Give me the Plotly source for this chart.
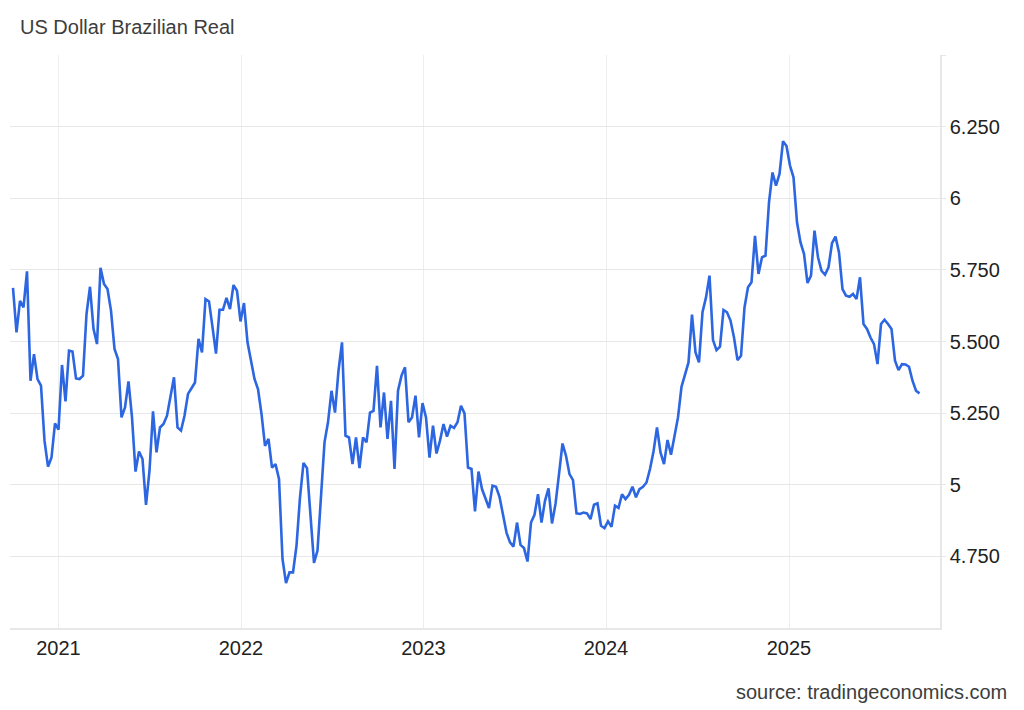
import pandas as pd
import plotly.graph_objects as go

# Weekly USD/BRL closes
start_date = "2020-10-02"
usdbrl = [
    5.687, 5.532, 5.642, 5.619, 5.745, 5.363, 5.456, 5.369, 5.346, 5.154,
    5.063, 5.095, 5.214, 5.192, 5.418, 5.291, 5.468, 5.465, 5.371, 5.369,
    5.381, 5.596, 5.691, 5.544, 5.491, 5.757, 5.701, 5.683, 5.608, 5.474,
    5.439, 5.235, 5.270, 5.361, 5.235, 5.046, 5.116, 5.090, 4.930, 5.049,
    5.256, 5.113, 5.200, 5.212, 5.241, 5.310, 5.375, 5.200, 5.189, 5.241,
    5.317, 5.337, 5.357, 5.509, 5.462, 5.648, 5.640, 5.550, 5.458, 5.611,
    5.611, 5.652, 5.613, 5.697, 5.677, 5.570, 5.634, 5.497, 5.430,
    5.369, 5.334, 5.247, 5.136, 5.160, 5.060, 5.072, 5.020, 4.741, 4.657,
    4.694, 4.694, 4.787, 4.956, 5.076, 5.058, 4.898, 4.727, 4.770, 4.973,
    5.148, 5.218, 5.328, 5.252, 5.398, 5.497, 5.171, 5.165, 5.072, 5.165,
    5.058, 5.165, 5.148, 5.252, 5.258, 5.415, 5.200, 5.322, 5.160, 5.293,
    5.055, 5.328, 5.381, 5.410, 5.218, 5.235, 5.311, 5.165, 5.285, 5.235,
    5.095, 5.206, 5.109, 5.154, 5.212, 5.168, 5.206, 5.198, 5.218, 5.276,
    5.249, 5.060, 5.055, 4.907, 5.046, 4.985, 4.950, 4.919, 4.997, 4.993,
    4.958, 4.898, 4.833, 4.799, 4.784, 4.868, 4.790, 4.779, 4.732, 4.868,
    4.895, 4.967, 4.868, 4.944, 4.987, 4.865, 4.933, 5.037, 5.144, 5.101,
    5.037, 5.016, 4.900, 4.898, 4.903, 4.900, 4.880, 4.930, 4.935, 4.857,
    4.849, 4.872, 4.853, 4.927, 4.919, 4.967, 4.950, 4.965, 4.993, 4.956,
    4.985, 4.993, 5.008, 5.055, 5.116, 5.200, 5.113, 5.072, 5.156, 5.105,
    5.168, 5.235, 5.342, 5.381, 5.427, 5.594, 5.462, 5.427, 5.602, 5.654,
    5.730, 5.505, 5.470, 5.482, 5.610, 5.602, 5.573, 5.514, 5.435, 5.450,
    5.619, 5.689, 5.707, 5.869, 5.736, 5.794, 5.800, 5.986, 6.090, 6.044,
    6.085, 6.199, 6.182, 6.114, 6.073, 5.916, 5.846, 5.806, 5.704, 5.730,
    5.887, 5.794, 5.747, 5.733, 5.759, 5.843, 5.866, 5.811, 5.683, 5.660,
    5.656, 5.666, 5.648, 5.724, 5.561, 5.544, 5.514, 5.491, 5.421, 5.561,
    5.576, 5.561, 5.544, 5.433, 5.400, 5.421, 5.420, 5.412, 5.363, 5.328,
    5.319,
]
dates = pd.date_range(start_date, periods=len(usdbrl), freq="7D")

x_tick_vals = ["2021-01-01", "2022-01-01", "2023-01-01", "2024-01-01", "2025-01-01"]
x_tick_text = ["2021", "2022", "2023", "2024", "2025"]
y_tick_vals = [4.75, 5.0, 5.25, 5.5, 5.75, 6.0, 6.25, 6.5]
y_tick_text = ["4.750", "5", "5.250", "5.500", "5.750", "6", "6.250", ""]

FONT = "Liberation Sans, Arial, sans-serif"
GRID = "#e7e7e7"

fig = go.Figure()
fig.add_trace(go.Scatter(
    x=dates, y=usdbrl, mode="lines",
    line=dict(color="#2d66e1", width=2.6),
    hoverinfo="x+y", showlegend=False,
))

fig.update_layout(
    width=1024, height=710,
    margin=dict(l=10, r=84, t=55, b=82),
    paper_bgcolor="white", plot_bgcolor="white",
    font=dict(family=FONT, size=20, color="#222222"),
    title=dict(
        text="US Dollar Brazilian Real",
        xref="container", yref="container",
        x=20 / 1024, y=1 - 27 / 710, xanchor="left", yanchor="middle",
        font=dict(family=FONT, size=20, color="#3d3d3d"),
    ),
    xaxis=dict(
        type="date",
        range=["2020-09-26", "2025-10-30"],
        tickvals=x_tick_vals, ticktext=x_tick_text,
        showgrid=True, gridcolor="#edeef0", gridwidth=1,
        showline=True, linecolor=GRID, linewidth=1.5,
        ticks="", ticklabelstandoff=1,
        tickfont=dict(family=FONT, size=20, color="#222222"),
        zeroline=False, fixedrange=True,
    ),
    yaxis=dict(
        range=[4.5, 6.5],
        side="right",
        tickvals=y_tick_vals, ticktext=y_tick_text,
        showgrid=True, gridcolor=GRID, gridwidth=1,
        showline=True, linecolor=GRID, linewidth=1.5,
        ticks="outside", ticklen=4, tickcolor=GRID,
        tickfont=dict(family=FONT, size=20, color="#222222"),
        zeroline=False, fixedrange=True,
    ),
    annotations=[dict(
        text="source: tradingeconomics.com",
        xref="paper", yref="paper",
        x=(1009 - 10) / 930, y=(628.4 - 692) / 573.4,
        xanchor="right", yanchor="middle", showarrow=False,
        font=dict(family=FONT, size=20, color="#3d3d3d"),
    )],
)

fig.write_html(
    "out.html",
    config={"displayModeBar": False},
    post_script="document.body.style.margin='0';document.body.style.overflow='hidden';",
)
